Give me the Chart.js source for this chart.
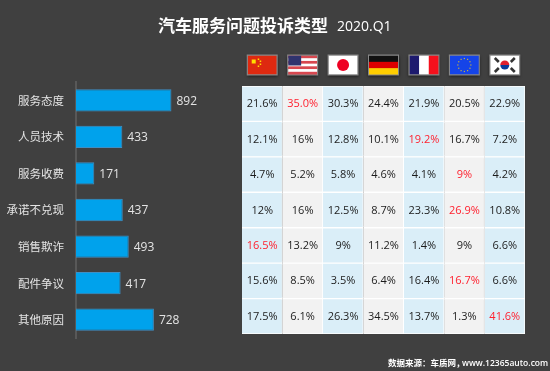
<!DOCTYPE html>
<html>
<head>
<meta charset="utf-8">
<title>汽车服务问题投诉类型</title>
<script src="https://cdn.jsdelivr.net/npm/chart.js@4"></script>
<style>
    html, body { margin: 0; padding: 0; background: #404040; }
    #wrap { position: relative; width: 550px; height: 371px; overflow: hidden; }
    canvas { position: absolute; left: 0; top: 0; }
</style>
</head>
<body>
<div id="wrap">
    <canvas id="barChart" width="550" height="371"></canvas>
    <canvas id="tableChart" width="550" height="371"></canvas>
</div>
<script>
// Complaint types and counts
const categories = ['服务态度', '人员技术', '服务收费', '承诺不兑现', '销售欺诈', '配件争议', '其他原因'];
const counts = [892, 433, 171, 437, 493, 417, 728];

// Brand origin columns, one flag each
const countries = ['china', 'usa', 'japan', 'germany', 'france', 'eu', 'korea'];

// Share per complaint type, same order as countries
const row1 = ['21.6%', '35.0%', '30.3%', '24.4%', '21.9%', '20.5%', '22.9%'];
const row2 = ['12.1%', '16%', '12.8%', '10.1%', '19.2%', '16.7%', '7.2%'];
const row3 = ['4.7%', '5.2%', '5.8%', '4.6%', '4.1%', '9%', '4.2%'];
const row4 = ['12%', '16%', '12.5%', '8.7%', '23.3%', '26.9%', '10.8%'];
const row5 = ['16.5%', '13.2%', '9%', '11.2%', '1.4%', '9%', '6.6%'];
const row6 = ['15.6%', '8.5%', '3.5%', '6.4%', '16.4%', '16.7%', '6.6%'];
const row7 = ['17.5%', '6.1%', '26.3%', '34.5%', '13.7%', '1.3%', '41.6%'];
const rows = [row1, row2, row3, row4, row5, row6, row7];

const titleText = '汽车服务问题投诉类型';
const subtitleText = '2020.Q1';
const sourceLabel = '数据来源：车质网，';
const sourceUrl = 'www.12365auto.com';

const CJK = '"Noto Sans CJK SC", "Noto Sans", sans-serif';
const NUM = '"Open Sans", "Noto Sans", sans-serif';

// Title, source line and the value next to each bar
const barExtras = {
    id: 'barExtras',
    afterDatasetsDraw(chart) {
        const c = chart.ctx;
        c.save();
        c.textBaseline = 'alphabetic';
        c.textAlign = 'left';
        c.fillStyle = '#ffffff';
        c.font = 'bold 17px ' + CJK;
        c.fillText(titleText, 158, 32);
        c.font = '14px ' + NUM;
        c.fillText(subtitleText, 337, 31);
        c.font = 'bold 8.5px ' + CJK;
        c.fillText(sourceLabel, 388, 366);
        c.font = '600 8.5px ' + NUM;
        c.fillText(sourceUrl, 462, 366);

        c.font = '12px ' + NUM;
        c.fillStyle = '#e4e4e4';
        c.textBaseline = 'middle';
        chart.getDatasetMeta(0).data.forEach((bar, i) => {
            c.fillText(counts[i], bar.x + 5, bar.y + 1);
        });
        c.restore();
    }
};

new Chart(document.getElementById('barChart').getContext('2d'), {
    type: 'bar',
    data: {
        labels: categories,
        datasets: [{
            data: counts,
            backgroundColor: '#00a2ec',
            borderColor: '#3f8fc4',
            borderWidth: 1,
            barPercentage: 0.61,
            categoryPercentage: 1
        }]
    },
    options: {
        indexAxis: 'y',
        responsive: false,
        animation: false,
        layout: { padding: { top: 82, bottom: 33, right: 367, left: 0 } },
        plugins: { legend: { display: false }, tooltip: { enabled: false } },
        scales: {
            x: { display: false, min: 0, max: 1000 },
            y: {
                afterFit(scale) { scale.width = 76; },
                grid: { display: false, drawTicks: false },
                border: { color: '#585858', width: 2 },
                ticks: {
                    color: '#e4e4e4',
                    padding: 12,
                    font: { size: 11.5, family: CJK }
                }
            }
        }
    },
    plugins: [barExtras]
});

// Small flag pictures, centred on (x, y)
function drawFlag(c, name, x, y) {
    const w = 29, h = 19;
    const l = x - w / 2, t = y - h / 2;
    c.save();
    c.shadowColor = 'rgba(0,0,0,0.6)';
    c.shadowBlur = 3;
    c.shadowOffsetY = 1;
    c.fillStyle = '#888888';
    c.fillRect(l - 1, t - 1, w + 2, h + 2);
    c.restore();
    c.save();
    c.beginPath();
    c.rect(l, t, w, h);
    c.clip();
    if (name === 'china') {
        c.fillStyle = '#de2910';
        c.fillRect(l, t, w, h);
        c.fillStyle = '#ffde00';
        c.fillRect(l + 4, t + 4, 4, 4);
        [[10, 3], [12, 5], [12, 8], [10, 10]].forEach(p => c.fillRect(l + p[0], t + p[1], 1.5, 1.5));
    } else if (name === 'usa') {
        for (let i = 0; i < 7; i++) {
            c.fillStyle = i % 2 ? '#ffffff' : '#d8474f';
            c.fillRect(l, t + i * h / 7, w, h / 7 + 0.5);
        }
        c.fillStyle = '#30336e';
        c.fillRect(l, t, 13, 10);
    } else if (name === 'japan') {
        c.fillStyle = '#ffffff';
        c.fillRect(l, t, w, h);
        c.fillStyle = '#ee0022';
        c.beginPath();
        c.arc(x, y, 6, 0, Math.PI * 2);
        c.fill();
    } else if (name === 'germany') {
        ['#111111', '#dd0000', '#ffce00'].forEach((col, i) => {
            c.fillStyle = col;
            c.fillRect(l, t + i * h / 3, w, h / 3 + 0.5);
        });
    } else if (name === 'france') {
        ['#1d1a6e', '#ffffff', '#f5101c'].forEach((col, i) => {
            c.fillStyle = col;
            c.fillRect(l + i * w / 3, t, w / 3 + 0.5, h);
        });
    } else if (name === 'eu') {
        c.fillStyle = '#1544e8';
        c.fillRect(l, t, w, h);
        c.fillStyle = '#c8b040';
        for (let i = 0; i < 12; i++) {
            const a = i * Math.PI / 6;
            c.fillRect(x + Math.cos(a) * 6.5 - 0.6, y + Math.sin(a) * 6.5 - 0.6, 1.2, 1.2);
        }
    } else if (name === 'korea') {
        c.fillStyle = '#ffffff';
        c.fillRect(l, t, w, h);
        c.fillStyle = '#e02030';
        c.beginPath();
        c.arc(x, y, 4.5, Math.PI, 0);
        c.fill();
        c.fillStyle = '#0b3a9a';
        c.beginPath();
        c.arc(x, y, 4.5, 0, Math.PI);
        c.fill();
        // four short bar groups at the corners
        c.strokeStyle = '#333333';
        c.lineWidth = 2.5;
        [[-8, -5, 1], [8, -5, -1], [-8, 5, -1], [8, 5, 1]].forEach(p => {
            c.beginPath();
            c.moveTo(x + p[0] - 2, y + p[1] - 2 * p[2]);
            c.lineTo(x + p[0] + 2, y + p[1] + 2 * p[2]);
            c.stroke();
        });
    }
    c.restore();
}

// Percent text in every cell plus the flags above the columns
const tableExtras = {
    id: 'tableExtras',
    afterDatasetsDraw(chart) {
        const c = chart.ctx;
        const xs = chart.scales.x;
        c.save();
        countries.forEach((name, i) => {
            drawFlag(c, name, xs.getPixelForValue(i + 0.5), 65);
        });
        c.font = '11px ' + NUM;
        c.textAlign = 'center';
        c.textBaseline = 'middle';
        rows.forEach((row, r) => {
            const top = Math.max(...row.map(parseFloat));
            row.forEach((text, i) => {
                const bar = chart.getDatasetMeta(i).data[r];
                c.fillStyle = parseFloat(text) === top ? '#ff1f2d' : '#1c1c1c';
                c.fillText(text, xs.getPixelForValue(i + 0.5), bar.y + 0.5);
            });
        });
        c.restore();
    }
};

// Each cell is one stacked segment of width 1
new Chart(document.getElementById('tableChart').getContext('2d'), {
    type: 'bar',
    data: {
        labels: categories,
        datasets: countries.map((name, i) => ({
            label: name,
            data: categories.map(() => 1),
            backgroundColor: i % 2 ? '#f2f2f2' : '#daeef8',
            borderColor: '#ffffff',
            borderWidth: 1,
            barPercentage: 1,
            categoryPercentage: 1
        }))
    },
    options: {
        indexAxis: 'y',
        responsive: false,
        animation: false,
        layout: { padding: { left: 242, top: 86, right: 25, bottom: 37 } },
        plugins: { legend: { display: false }, tooltip: { enabled: false } },
        scales: {
            x: { display: false, stacked: true, min: 0, max: 7 },
            y: { display: false, stacked: true }
        }
    },
    plugins: [tableExtras]
});
</script>
</body>
</html>
